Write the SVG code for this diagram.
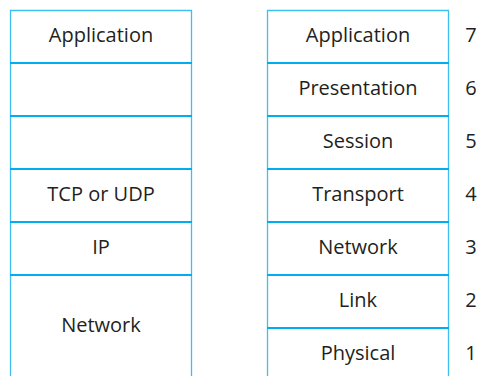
<svg xmlns="http://www.w3.org/2000/svg" width="482" height="376" viewBox="0 0 482 376">
<style>
.side{stroke:#3fbff0;stroke-width:1.3;fill:none}
.div{stroke:#00aeef;stroke-width:2;fill:none}
text{font-family:"Open Sans","Noto Sans",sans-serif;font-size:20px;fill:#231f20;text-anchor:middle}
</style>
<rect width="482" height="376" fill="#fff"/>
<g id="connectors"></g>
<g id="left-stack">
<path class="side" d="M10.5,376 V10.5 H191.5 V376"/>
<path class="div" d="M10,63 H192 M10,116 H192 M10,169 H192 M10,222 H192 M10,275 H192"/>
<g id="l-app"><text x="101" y="42">Application</text></g>
<g id="l-tcp"><text x="101" y="201">TCP or UDP</text></g>
<g id="l-ip"><text x="101" y="254">IP</text></g>
<g id="l-net"><text x="101" y="332">Network</text></g>
</g>
<g id="right-stack">
<path class="side" d="M267.5,376 V10.5 H448.5 V376"/>
<path class="div" d="M267,63 H449 M267,116 H449 M267,169 H449 M267,222 H449 M267,275 H449 M267,328 H449"/>
<g id="r7"><text x="358" y="42">Application</text><text x="471" y="42">7</text></g>
<g id="r6"><text x="358" y="95">Presentation</text><text x="471" y="95">6</text></g>
<g id="r5"><text x="358" y="148">Session</text><text x="471" y="148">5</text></g>
<g id="r4"><text x="358" y="201">Transport</text><text x="471" y="201">4</text></g>
<g id="r3"><text x="358" y="254">Network</text><text x="471" y="254">3</text></g>
<g id="r2"><text x="358" y="307">Link</text><text x="471" y="307">2</text></g>
<g id="r1"><text x="358" y="360">Physical</text><text x="471" y="360">1</text></g>
</g>
</svg>
